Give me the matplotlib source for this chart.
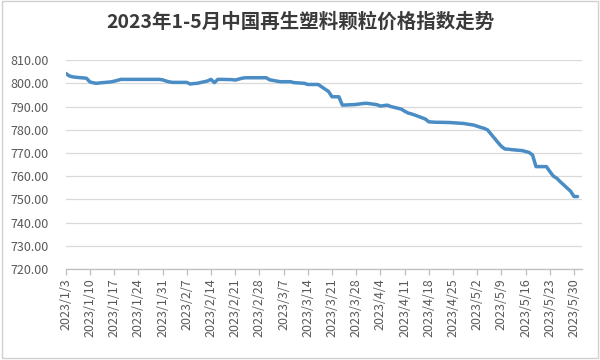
import matplotlib
matplotlib.use("Agg")
import matplotlib.pyplot as plt
import pandas as pd
from matplotlib.patches import Rectangle

plt.rcParams['font.family'] = ['Noto Sans CJK SC', 'DejaVu Sans']

title = "2023年1-5月中国再生塑料颗粒价格指数走势"

dates = pd.bdate_range("2023-01-03", "2023-05-31")
values = [
    # Jan
    804.3, 803.2, 802.8, 802.6,
    802.2, 800.6, 800.2, 800.0, 800.2,
    800.6, 800.9, 801.3, 801.7, 801.7,
    801.7, 801.7, 801.7, 801.7, 801.7,
    801.7, 801.5,
    # Feb
    801.0, 800.6, 800.4,
    800.4, 800.4, 799.7, 799.9, 800.0,
    801.0, 801.7, 800.3, 801.7, 801.7,
    801.6, 801.4, 801.8, 802.2, 802.4,
    802.4, 802.4,
    # Mar
    802.4, 802.4, 801.5,
    800.7, 800.7, 800.7, 800.7, 800.3,
    800.0, 799.5, 799.5, 799.5, 799.5,
    796.5, 794.2, 794.2, 794.2, 790.6,
    790.8, 790.9, 791.1, 791.3, 791.4,
    # Apr
    790.8, 790.2, 790.4, 790.6, 790.0,
    788.9, 788.0, 787.2, 786.8, 786.3,
    784.6, 783.4, 783.3, 783.2, 783.2,
    783.1, 783.0, 782.9, 782.8, 782.7,
    # May
    782.0, 781.5, 781.0, 780.6, 779.9,
    774.5, 772.8, 771.7, 771.6, 771.4,
    771.0, 770.6, 770.2, 769.1, 764.1,
    764.1, 762.0, 760.0, 759.1, 757.6,
    753.5, 751.2, 751.2,
]
tick_dates = pd.date_range("2023-01-03", "2023-05-30", freq="7D")
tick_labels = [f"{d.year}/{d.month}/{d.day}" for d in tick_dates]
y_ticks = list(range(720, 811, 10))

fig = plt.figure(figsize=(6, 3.6), dpi=100)
fig.patch.set_facecolor('white')
fig.add_artist(Rectangle((0.004, 0.006), 0.992, 0.99, transform=fig.transFigure,
                         fill=False, edgecolor='#d0d0d0', linewidth=1.0))

ax = fig.add_axes([0.1095, 0.253, 0.8605, 0.58])
ax.plot(dates, values, color='#4a8cc4', linewidth=2.5,
        solid_joinstyle='round', solid_capstyle='round')

ax.set_ylim(720, 810)
ax.set_yticks(y_ticks)
ax.set_yticklabels([f"{v:.2f}" for v in y_ticks], fontsize=9, color='#595959')
x0 = pd.Timestamp("2023-01-03")
ax.set_xlim(x0, x0 + pd.Timedelta(days=149.3))
ax.set_xticks(tick_dates)
ax.set_xticklabels(tick_labels, rotation=90, fontsize=9, color='#595959')

ax.grid(axis='y', color='#d9d9d9', linewidth=0.9)
ax.set_axisbelow(True)
for s in ['top', 'right', 'left']:
    ax.spines[s].set_visible(False)
ax.spines['bottom'].set_color('#bfbfbf')
ax.spines['bottom'].set_linewidth(0.9)
ax.tick_params(axis='y', length=0, pad=12)
ax.tick_params(axis='x', length=4, color='#bfbfbf', width=0.9, pad=3)

fig.text(0.5, 0.938, title, ha='center', va='center', fontsize=14,
         fontweight='bold', color='#3a3a3a')

fig.savefig("out.png", dpi=100)
